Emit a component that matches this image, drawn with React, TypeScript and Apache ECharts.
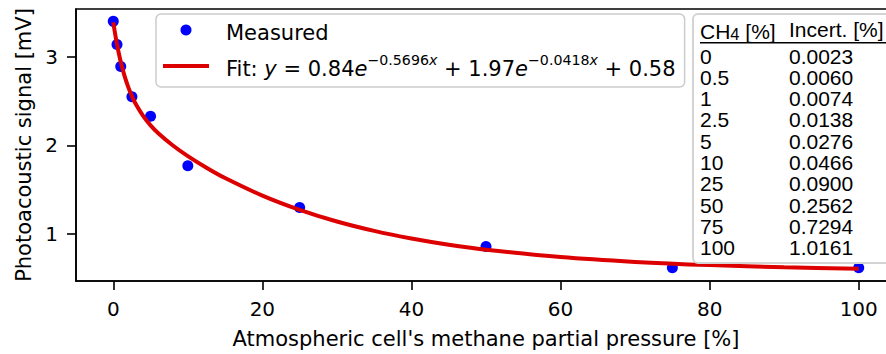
import React, { useEffect, useRef } from "react";
import * as echarts from "echarts";

// CH4 partial pressure of measured points [%]
const concentrations = [0, 0.5, 1, 2.5, 5, 10, 25, 50, 75, 100];
// Measured photoacoustic signal [mV]
const measuredSignal = [3.4, 3.14, 2.89, 2.55, 2.33, 1.77, 1.3, 0.86, 0.62, 0.62];
// Fit curve samples
const fitPressure = [0, 0.25, 0.5, 0.75, 1, 1.5, 2, 2.5, 3, 4, 5, 6, 8, 10, 12.5, 15, 20, 25, 30, 35, 40, 45, 50, 60, 70, 80, 90, 100];
const fitSignal = [3.39, 3.258, 3.141, 3.037, 2.945, 2.788, 2.661, 2.557, 2.47, 2.333, 2.227, 2.141, 1.999, 1.88, 1.749, 1.632, 1.434, 1.273, 1.142, 1.036, 0.95, 0.88, 0.824, 0.74, 0.686, 0.65, 0.626, 0.61];
// Uncertainty table
const tableCH4 = ["0", "0.5", "1", "2.5", "5", "10", "25", "50", "75", "100"];
const tableIncert = ["0.0023", "0.0060", "0.0074", "0.0138", "0.0276", "0.0466", "0.0900", "0.2562", "0.7294", "1.0161"];
// Fit coefficients shown in legend
const fitA = "0.84";
const fitB = "0.5696";
const fitC = "1.97";
const fitD = "0.0418";
const fitE = "0.58";
// Ticks
const xTicks = [0, 20, 40, 60, 80, 100];
const yTicks = [1, 2, 3];

const DV = "DejaVu Sans";
const LS = "Liberation Sans";

export default function App() {
  const ref = useRef<HTMLDivElement>(null);
  useEffect(() => {
    if (!ref.current) return;
    const chart = echarts.init(ref.current, undefined, { renderer: "svg" });

    const tableX = 693;
    const tableTop = 14;
    const col1 = 700;
    const col2 = 789;
    const rowY0 = 56;
    const rowH = 21.33;

    const tableGraphics: any[] = [
      {
        type: "rect",
        z: 100,
        shape: { x: tableX, y: tableTop, width: 220, height: 249, r: 5 },
        style: { fill: "#ffffff", stroke: "#d4d4d4", lineWidth: 2 },
      },
      {
        type: "text",
        z: 101,
        x: col1,
        y: 29,
        style: {
          text: "{a|CH}{b|4}{a| [%]}",
          fill: "#000",
          verticalAlign: "middle",
          rich: {
            a: { fontFamily: LS, fontSize: 21, lineHeight: 26, verticalAlign: "bottom", fill: "#000" },
            b: { fontFamily: LS, fontSize: 16.5, lineHeight: 16, verticalAlign: "bottom", fill: "#000" },
          },
        },
      },
      {
        type: "text",
        z: 101,
        x: col2,
        y: 29,
        style: { text: "Incert. [%]", fill: "#000", fontFamily: LS, fontSize: 21, verticalAlign: "middle" },
      },
      {
        type: "line",
        z: 101,
        shape: { x1: col1, y1: 42.7, x2: 900, y2: 42.7 },
        style: { stroke: "#000", lineWidth: 1.6 },
      },
    ];
    tableCH4.forEach((c, i) => {
      tableGraphics.push({
        type: "text",
        z: 101,
        x: col1,
        y: rowY0 + i * rowH,
        style: { text: c, fill: "#000", fontFamily: LS, fontSize: 21, verticalAlign: "middle" },
      });
      tableGraphics.push({
        type: "text",
        z: 101,
        x: col2,
        y: rowY0 + i * rowH,
        style: { text: tableIncert[i], fill: "#000", fontFamily: LS, fontSize: 21, verticalAlign: "middle" },
      });
    });

    const fitLabel =
      "{g| }{n|Fit: }{i|y}{n| = " + fitA + "}{i|e}{s|−" + fitB + "}{si|x}{n| + " + fitC + "}{i|e}{s|−" + fitD + "}{si|x}{n| + " + fitE + "}";

    const option: any = {
      animation: false,
      grid: { left: 76, top: 9, right: 4, bottom: 71, show: true, borderColor: "#000", borderWidth: 1.6 },
      xAxis: {
        type: "value",
        min: -5,
        max: 105,
        name: "Atmospheric cell's methane partial pressure [%]",
        nameLocation: "middle",
        nameGap: 47,
        nameMoveOverlap: false,
        nameTextStyle: { fontFamily: DV, fontSize: 21, color: "#000" },
        axisLine: { show: true, onZero: false, lineStyle: { color: "#000", width: 1.6 } },
        axisTick: { show: true, customValues: xTicks, length: 9, lineStyle: { color: "#000", width: 1.6 } },
        axisLabel: { customValues: xTicks, fontFamily: DV, fontSize: 20, color: "#000", margin: 18 },
        splitLine: { show: false },
      },
      yAxis: {
        type: "value",
        min: 0.4705,
        max: 3.5395,
        name: "Photoacoustic signal [mV]",
        nameLocation: "middle",
        nameGap: 42,
        nameMoveOverlap: false,
        nameTextStyle: { fontFamily: DV, fontSize: 21, color: "#000" },
        axisLine: { show: true, onZero: false, lineStyle: { color: "#000", width: 1.6 } },
        axisTick: { show: true, customValues: yTicks, length: 9, lineStyle: { color: "#000", width: 1.6 } },
        axisLabel: { customValues: yTicks, fontFamily: DV, fontSize: 20, color: "#000", margin: 18 },
        splitLine: { show: false },
      },
      legend: {
        orient: "vertical",
        left: 156,
        top: 14,
        padding: [8, 9, 8, 7],
        itemGap: 10,
        itemWidth: 46,
        itemHeight: 11,
        selectedMode: false,
        backgroundColor: "rgba(255,255,255,0.8)",
        borderColor: "#cccccc",
        borderWidth: 1.5,
        borderRadius: 5,
        data: [
          { name: "Measured", icon: "circle" },
          { name: "Fit", icon: "path://M0,0H46V4H0Z" },
        ],
        formatter: (name: string) => (name === "Fit" ? fitLabel : "{g| }{n|Measured}"),
        textStyle: {
          fontFamily: DV,
          fontSize: 21,
          color: "#000",
          rich: {
            g: { width: 12, fontSize: 10 },
            n: { fontFamily: DV, fontSize: 21, lineHeight: 26, verticalAlign: "bottom", color: "#000" },
            i: { fontFamily: DV, fontStyle: "italic", fontSize: 21, lineHeight: 26, verticalAlign: "bottom", color: "#000" },
            s: { fontFamily: DV, fontSize: 14.2, lineHeight: 19, verticalAlign: "top", color: "#000" },
            si: { fontFamily: DV, fontStyle: "italic", fontSize: 14.2, lineHeight: 19, verticalAlign: "top", color: "#000" },
          },
        },
      },
      series: [
        {
          type: "scatter",
          name: "Measured",
          data: concentrations.map((x, i) => [x, measuredSignal[i]]),
          symbol: "circle",
          symbolSize: 11,
          itemStyle: { color: "#0000ff", opacity: 1 },
        },
        {
          type: "line",
          name: "Fit",
          data: fitPressure.map((x, i) => [x, fitSignal[i]]),
          symbol: "none",
          showSymbol: false,
          smooth: 0.3,
          lineStyle: { color: "#dd0000", width: 4 },
          itemStyle: { color: "#dd0000" },
        },
      ],
      graphic: tableGraphics,
    };
    chart.setOption(option);
    return () => chart.dispose();
  }, []);
  return (
    <div style={{ position: "fixed", left: 0, top: 0, width: 886, height: 354, overflow: "hidden", background: "#fff" }}>
      <div ref={ref} style={{ width: 900, height: 354 }} />
    </div>
  );
}
